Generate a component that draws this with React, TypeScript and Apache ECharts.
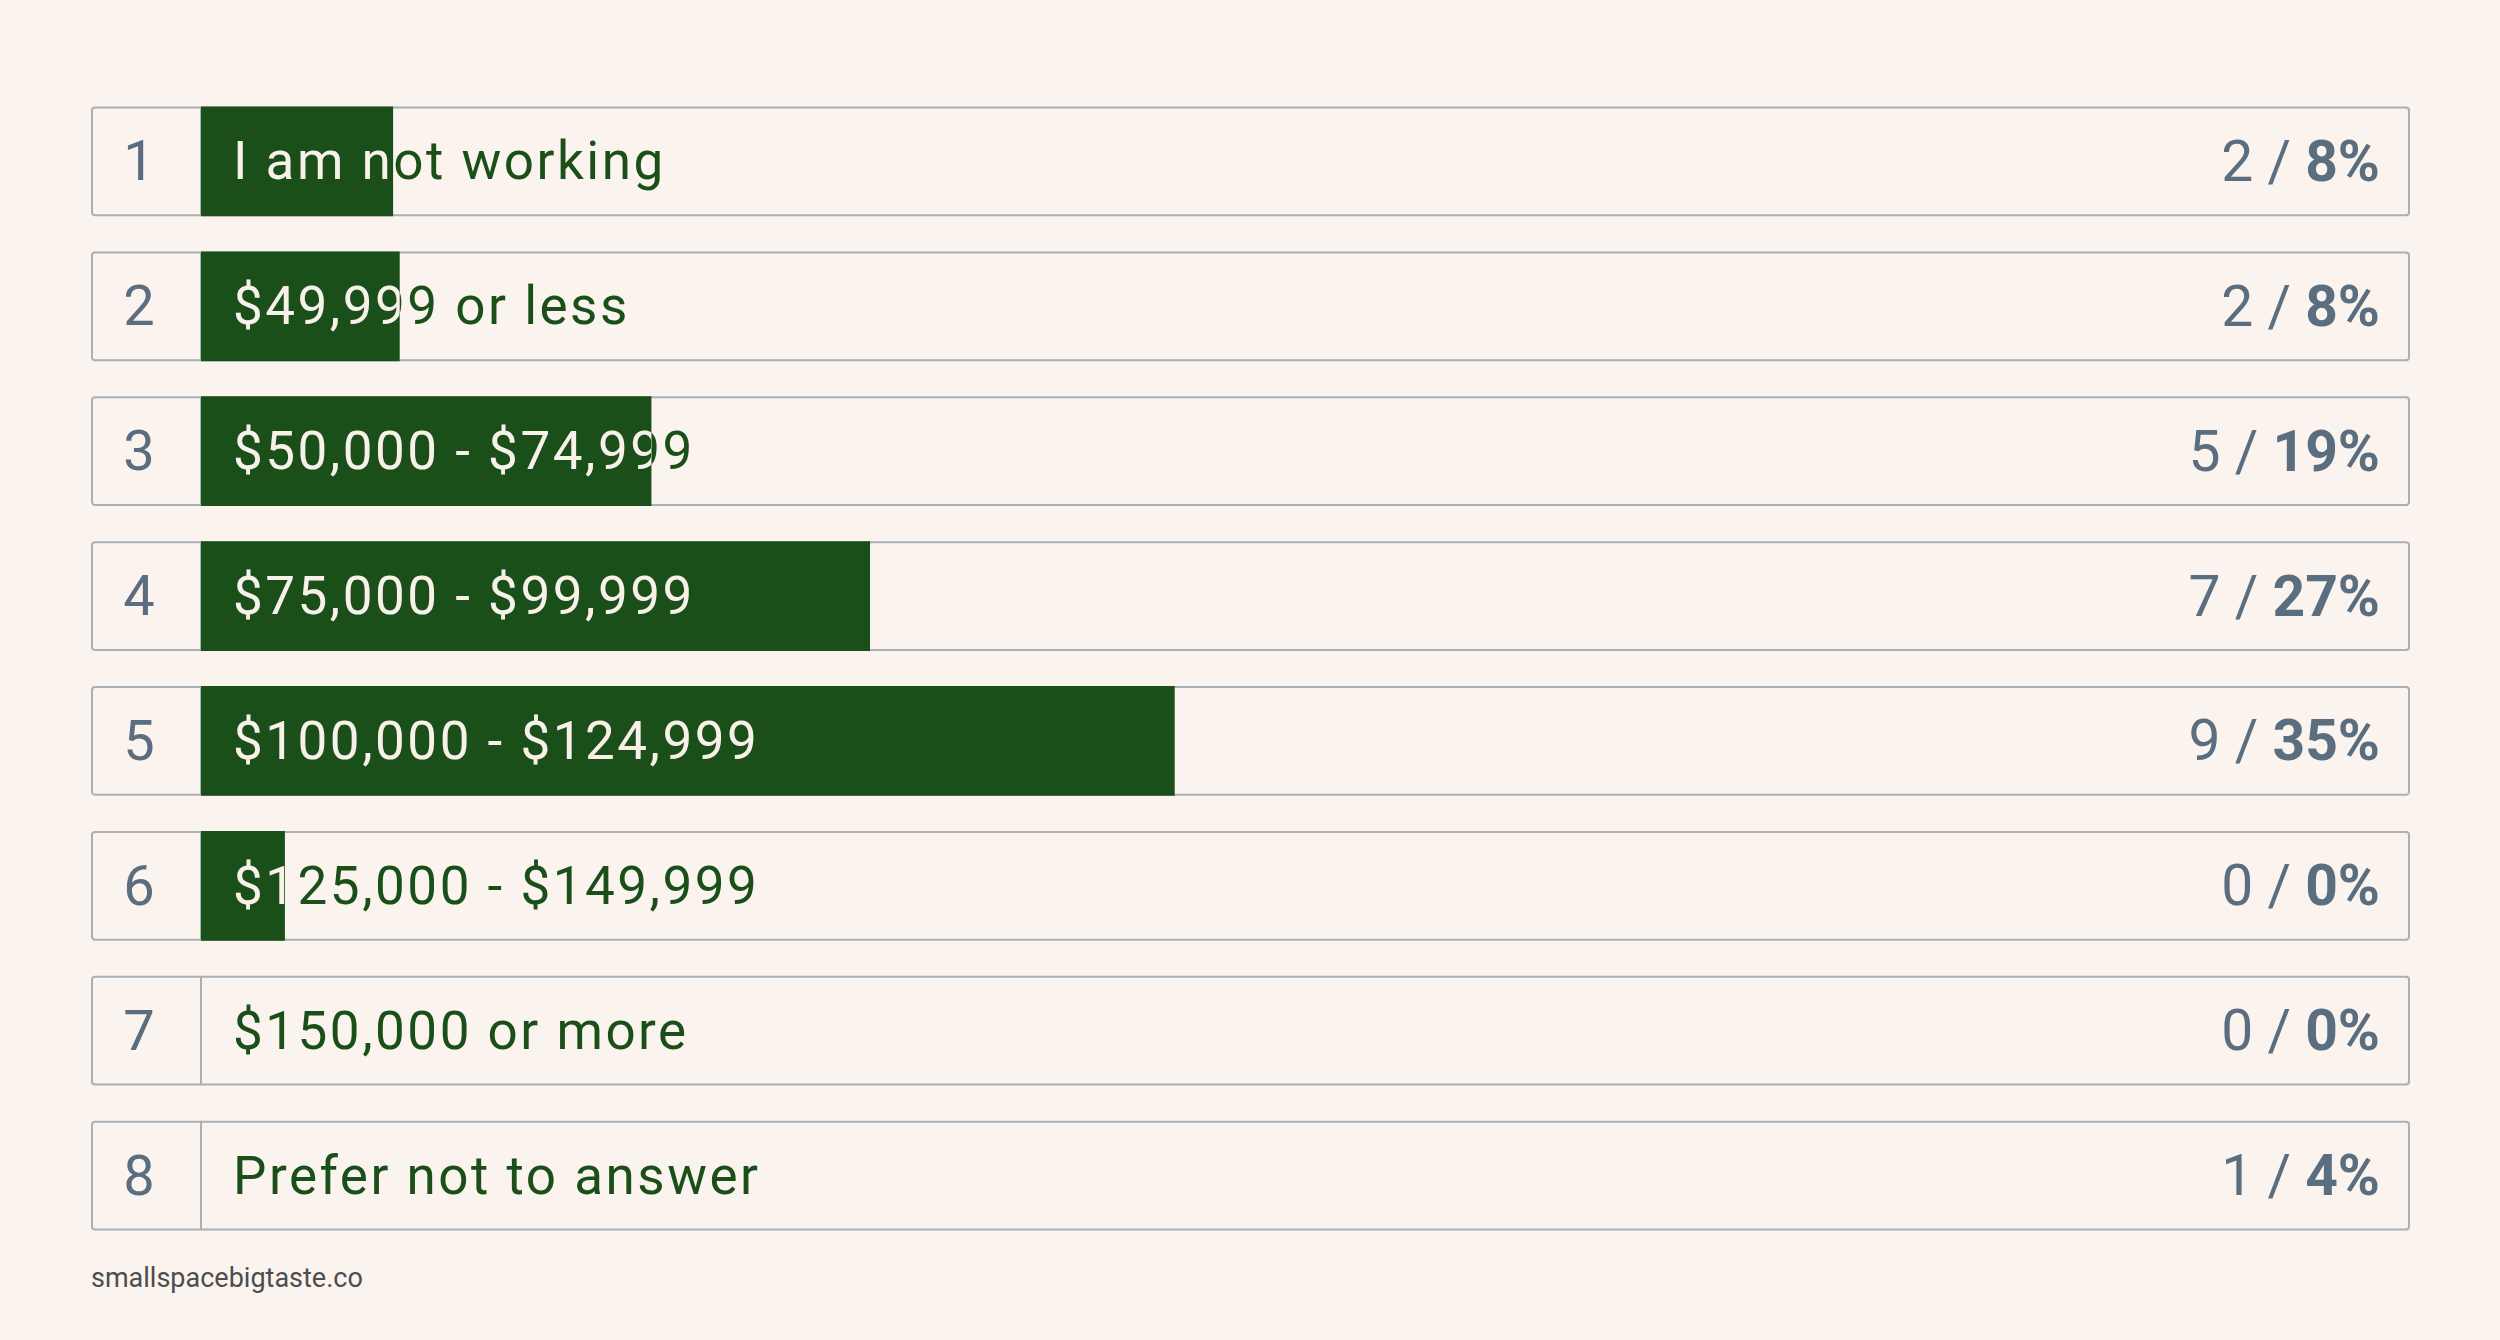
import React, { useEffect, useRef } from 'react';
import * as echarts from 'echarts';

const CATEGORIES = [
  'I am not working',
  '$49,999 or less',
  '$50,000 - $74,999',
  '$75,000 - $99,999',
  '$100,000 - $124,999',
  '$125,000 - $149,999',
  '$150,000 or more',
  'Prefer not to answer',
];
// responses and share as printed on the right
const COUNTS = [2, 2, 5, 7, 9, 0, 0, 1];
const PERCENTS = [8, 8, 19, 27, 35, 0, 0, 4];
// drawn bar length, % of track
const BAR_FILL = [8.7, 9.0, 20.4, 30.3, 44.1, 3.8, 0, 0];

const BG = '#faf3ee';
const GREEN = '#1a4f1a';
const LIGHT = '#f8f1ea';
const SLATE = '#5a6e80';
const BORDER = '#a9b0b6';
const FONT = 'Roboto, "Noto Sans", sans-serif';

const NUM_CELL = 109;

export default function App() {
  const chartRef = useRef<HTMLDivElement>(null);

  useEffect(() => {
    document.body.style.margin = '0';
    if (!chartRef.current) return;
    const chart = echarts.init(chartRef.current, null, { renderer: 'svg' });

    const option = {
      animation: false,
      backgroundColor: BG,
      grid: { left: 201, right: 91, top: 89, bottom: 92 },
      xAxis: { type: 'value', min: 0, max: 100, show: false },
      yAxis: { type: 'category', inverse: true, data: CATEGORIES, show: false },
      graphic: [
        {
          type: 'text',
          left: 91,
          top: 1264,
          style: {
            text: 'smallspacebigtaste.co',
            fill: '#4d4d4d',
            font: `400 27px ${FONT}`,
          },
        },
      ],
      series: [
        {
          type: 'custom',
          encode: { x: 1, y: 0 },
          data: CATEGORIES.map((_, i) => [i, BAR_FILL[i]]),
          renderItem: (params: any, api: any) => {
            const i = api.value(0);
            const fill = api.value(1);
            const [x0, yc] = api.coord([0, i]);
            const [x1] = api.coord([100, i]);
            const [xf] = api.coord([fill, i]);
            const bandH = api.size([0, 1])[1];
            const h = bandH * 0.743;
            const top = yc - h / 2;
            const label = CATEGORIES[i];
            const textStyle = {
              text: label,
              x: x0 + 32,
              y: yc,
              font: `400 53px ${FONT}`,
              textAlign: 'left',
              textVerticalAlign: 'middle',
            };
            const clipW = Math.max(0, xf - x0);
            return {
              type: 'group',
              children: [
                {
                  type: 'rect',
                  shape: { x: x0 - NUM_CELL, y: top, width: x1 - x0 + NUM_CELL, height: h, r: 3 },
                  style: { fill: BG, stroke: BORDER, lineWidth: 2 },
                },
                {
                  type: 'line',
                  shape: { x1: x0, y1: top, x2: x0, y2: top + h },
                  style: { stroke: BORDER, lineWidth: 2 },
                },
                {
                  type: 'rect',
                  shape: { x: x0, y: top - 1, width: clipW, height: h + 2 },
                  style: { fill: GREEN },
                },
                {
                  type: 'text',
                  style: { ...textStyle, fill: GREEN },
                },
                {
                  type: 'text',
                  style: { ...textStyle, fill: LIGHT },
                  clipPath: {
                    type: 'rect',
                    shape: { x: x0, y: top - 1, width: clipW, height: h + 2 },
                  },
                },
                {
                  type: 'text',
                  style: {
                    text: String(i + 1),
                    x: x0 - 62,
                    y: yc,
                    fill: SLATE,
                    font: `400 56px ${FONT}`,
                    textAlign: 'center',
                    textVerticalAlign: 'middle',
                  },
                },
                {
                  type: 'text',
                  style: {
                    text: `{a|${COUNTS[i]} / }{b|${PERCENTS[i]}%}`,
                    x: x1 - 29,
                    y: yc,
                    textAlign: 'right',
                    textVerticalAlign: 'middle',
                    rich: {
                      a: { fontFamily: FONT, fontSize: 57, fontWeight: 400, fill: SLATE, color: SLATE },
                      b: { fontFamily: FONT, fontSize: 57, fontWeight: 700, fill: SLATE, color: SLATE },
                    },
                  },
                },
              ],
            };
          },
        },
      ],
    };

    chart.setOption(option);
    return () => {
      chart.dispose();
    };
  }, []);

  return (
    <>
      <style>{`#root svg text[fill="${GREEN}"], #root svg text[fill="${LIGHT}"] { letter-spacing: 2.5px; }`}</style>
      <div ref={chartRef} style={{ width: 2500, height: 1340 }} />
    </>
  );
}
